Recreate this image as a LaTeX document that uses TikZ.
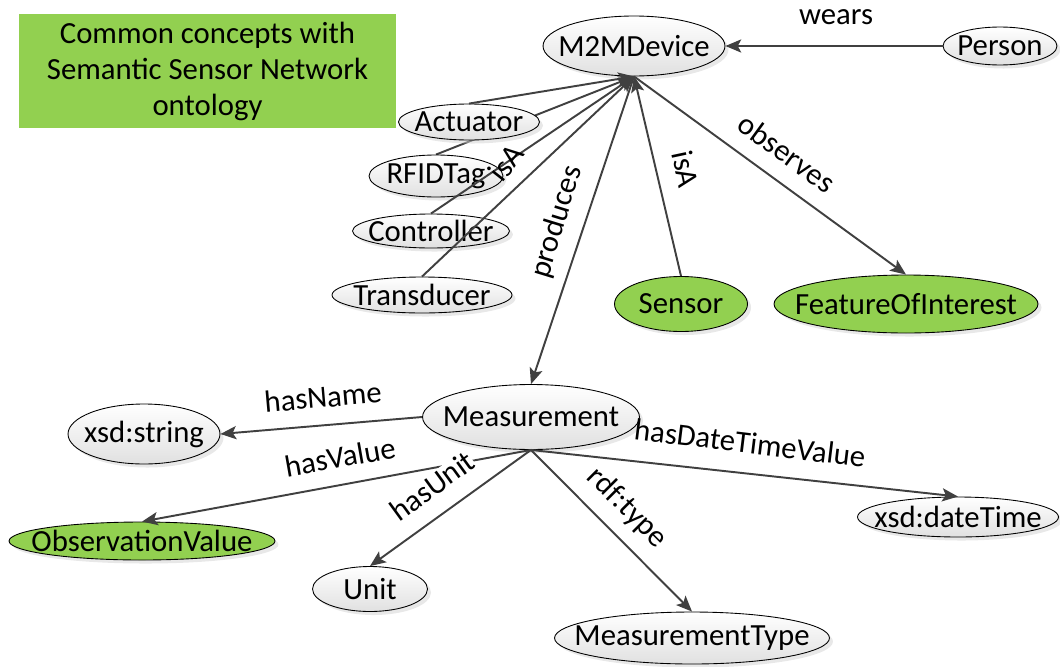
\documentclass[tikz,border=0pt]{standalone}
\usepackage{fontspec}
\setmainfont{Carlito}
\usetikzlibrary{arrows.meta,shapes.geometric,shadows,backgrounds}

\definecolor{ssngreen}{HTML}{92D050}
\definecolor{relgray}{HTML}{404040}

% text inside an oval does not widen it
\newcommand{\ontotext}[1]{\makebox[0pt]{#1}}

\tikzset{
  oval/.style={ellipse, draw=black, line width=0.5pt, inner sep=0pt,
    drop shadow={shadow xshift=2pt, shadow yshift=-2pt, fill=black!18}},
  concept/.style={oval, top color=white, bottom color=black!12},
  ssnconcept/.style={oval, fill=ssngreen},
  legendbox/.style={rectangle, fill=ssngreen, align=center, inner sep=0pt,
    minimum width=7.54cm, minimum height=2.28cm, font=\fontsize{17.5}{20.5}\selectfont},
  rel/.style={draw=relgray, line width=1.1pt, -{Stealth[length=9pt,width=7.5pt,inset=2pt]}},
}

\begin{document}
\begin{tikzpicture}[x=0.02cm, y=-0.02cm, font=\fontsize{17.5}{21}\selectfont]
\useasboundingbox (0,0) rectangle (1060,666);

% Legend
\node[legendbox] (legend) at (207.5,71) {Common concepts with\\Semantic Sensor Network\\ontology};

% Device side
\node[concept, minimum width=3.64cm, minimum height=1.2cm] (m2m) at (634,46) {\ontotext{M2MDevice}};
\node[concept, minimum width=2.28cm, minimum height=0.76cm] (person) at (1000,46) {\ontotext{Person}};
\node[concept, minimum width=2.82cm, minimum height=0.72cm] (actuator) at (469,122) {\ontotext{Actuator}};
\node[concept, minimum width=2.68cm, minimum height=0.84cm] (rfidtag) at (436,176) {\ontotext{RFIDTag}};
\node[concept, minimum width=3.14cm, minimum height=0.68cm] (controller) at (431,231) {\ontotext{Controller}};
\node[concept, minimum width=3.6cm, minimum height=0.72cm] (transducer) at (422,295) {\ontotext{Transducer}};
\node[ssnconcept, minimum width=2.66cm, minimum height=1.1cm] (sensor) at (681,304) {\ontotext{Sensor}};
\node[ssnconcept, minimum width=5.28cm, minimum height=1.16cm] (foi) at (906,304) {\ontotext{FeatureOfInterest}};

% Measurement side
\node[concept, minimum width=4.34cm, minimum height=1.3cm] (measurement) at (531,417) {\ontotext{Measurement}};
\node[concept, minimum width=3.04cm, minimum height=1.2cm] (xsdstring) at (144,434) {\ontotext{xsd:string}};
\node[ssnconcept, minimum width=5.32cm, minimum height=0.76cm] (obsvalue) at (142,541) {\ontotext{ObservationValue}};
\node[concept, minimum width=2.3cm, minimum height=0.9cm] (unit) at (370,589) {\ontotext{Unit}};
\node[concept, minimum width=5.5cm, minimum height=1.04cm] (mtype) at (692,638) {\ontotext{MeasurementType}};
\node[concept, minimum width=4.02cm, minimum height=0.8cm] (datetime) at (958,517) {\ontotext{xsd:dateTime}};

% Links to M2MDevice
\begin{scope}[on background layer]
\draw[rel] (rfidtag.north) -- (m2m.south);
\end{scope}
\draw[rel] (actuator.north) -- (m2m.south);
\draw[rel] (controller.north) -- (m2m.south);
\draw[rel] (transducer.north) -- (m2m.south);
\draw[rel] (sensor.north) -- (m2m.south);
\draw[rel] (person.west) -- (m2m.east);
\draw[rel] (m2m.south) -- (foi.north);
\draw[rel] (m2m.south) -- (measurement.north);

% Links from Measurement
\draw[rel] (measurement.west) -- (xsdstring.east);
\draw[rel] (measurement.south) -- (obsvalue.north);
\draw[rel] (measurement.south) -- (unit.north);
\draw[rel] (measurement.south) -- (mtype.north);
\draw[rel] (measurement.south) -- (datetime.north);

% Labels
\node (wears) at (836,17) {wears};
\node[rotate=-36] (observes) at (787,153) {observes};
\node[rotate=-78] (isasensor) at (686,169) {isA};
\node[rotate=52] (isaleft) at (506,163) {isA};
\node[rotate=73] (produces) at (557,222) {produces};
\node[rotate=5] (hasname) at (323,397) {hasName};
\node[rotate=10] (hasvalue) at (340,457) {hasValue};
\node[rotate=36, fill=white, inner sep=0pt] (hasunit) at (432,486) {hasUnit};
\node[rotate=-45] (rdftype) at (627,508) {rdf:type};
\node[rotate=-7] (hasdatetime) at (750,443) {hasDateTimeValue};
\end{tikzpicture}
\end{document}
